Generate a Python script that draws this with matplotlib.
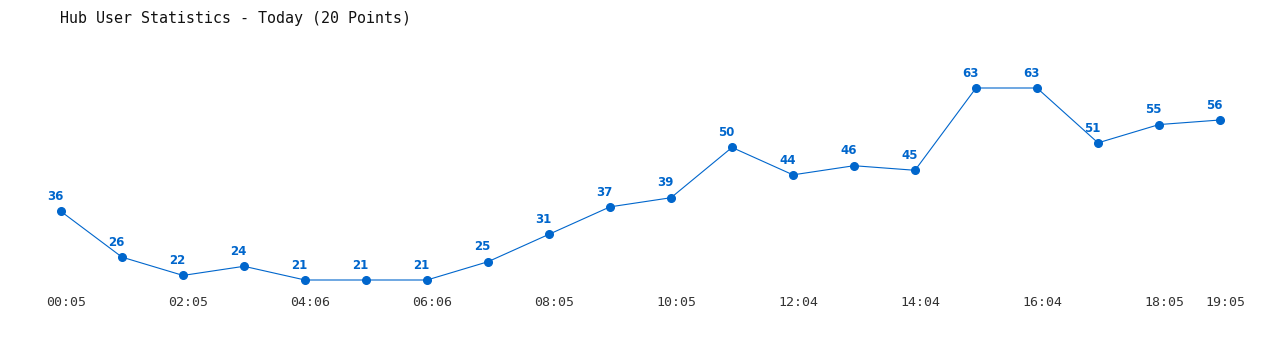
import matplotlib.pyplot as plt

values = [36, 26, 22, 24, 21, 21, 21, 25, 31, 37, 39, 50, 44, 46, 45, 63, 63, 51, 55, 56]
tick_idx = [0, 2, 4, 6, 8, 10, 12, 14, 16, 18, 19]
tick_labels = ['00:05', '02:05', '04:06', '06:06', '08:05', '10:05',
               '12:04', '14:04', '16:04', '18:05', '19:05']

blue = '#0066cc'

fig = plt.figure(figsize=(12.8, 3.5), dpi=100)
ax = fig.add_axes([0, 0, 1, 1])

x = list(range(len(values)))
ax.plot(x, values, color=blue, linewidth=0.8, marker='o', markersize=5.5)

for i, v in zip(x, values):
    ax.annotate(str(v), (i, v), xytext=(-4, 6), textcoords='offset points',
                ha='center', va='bottom', color=blue, fontsize=8.5,
                fontweight='bold', family='DejaVu Sans')

# pixel mapping: index 0 -> x=61, step 61 px; 21 -> y=280, 63 -> y=88
ax.set_xlim(-1, -1 + 1280 / 61)
ppu = 192 / 42
ax.set_ylim(21 - 70 / ppu, 21 + 280 / ppu)
ax.axis('off')

ybase = 21 - (303 - 280) / ppu
for i, lab in zip(tick_idx, tick_labels):
    ax.text(i + 5 / 61, ybase, lab, ha='center', va='center',
            fontsize=9.5, family='DejaVu Sans Mono', color='#333333')

fig.text(60 / 1280, 1 - 18 / 350, 'Hub User Statistics - Today (20 Points)',
         ha='left', va='center', fontsize=10.8, family='DejaVu Sans Mono',
         color='#111111')

fig.savefig('out.png', dpi=100)
